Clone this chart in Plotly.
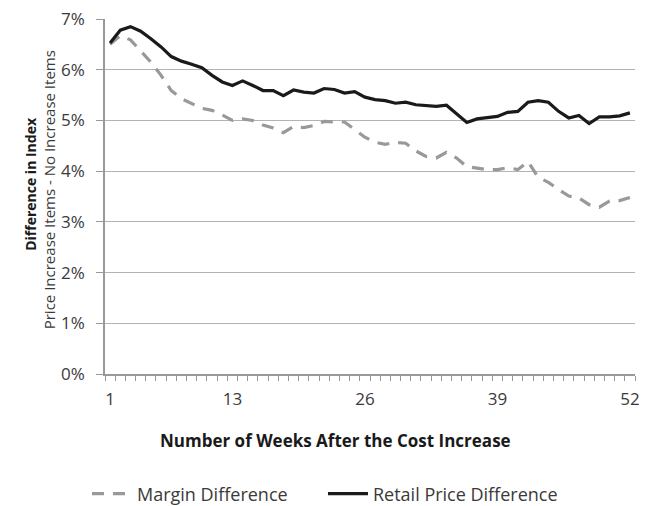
import plotly.graph_objects as go

weeks = list(range(1, 53))

retail_price_difference = [
    6.53, 6.78, 6.85, 6.76, 6.61, 6.45, 6.26, 6.17, 6.11, 6.04,
    5.89, 5.76, 5.69, 5.78, 5.69, 5.59, 5.59, 5.49, 5.60, 5.56,
    5.54, 5.63, 5.61, 5.54, 5.57, 5.46, 5.41, 5.39, 5.34, 5.36,
    5.31, 5.30, 5.28, 5.30, 5.13, 4.96, 5.03, 5.06, 5.08, 5.16,
    5.18, 5.36, 5.39, 5.36, 5.18, 5.05, 5.10, 4.94, 5.07, 5.07,
    5.09, 5.15,
]

margin_difference = [
    6.50, 6.67, 6.59, 6.37, 6.15, 5.89, 5.59, 5.43, 5.33, 5.24,
    5.20, 5.11, 5.00, 5.03, 5.00, 4.91, 4.85, 4.76, 4.88, 4.86,
    4.90, 4.98, 4.97, 4.97, 4.82, 4.67, 4.57, 4.53, 4.57, 4.55,
    4.40, 4.29, 4.26, 4.37, 4.26, 4.09, 4.06, 4.03, 4.03, 4.07,
    4.03, 4.19, 3.88, 3.78, 3.64, 3.51, 3.47, 3.34, 3.29, 3.41,
    3.42, 3.48,
]

x_tick_labels = [1, 13, 26, 39, 52]
y_tick_values = [0, 1, 2, 3, 4, 5, 6, 7]

FONT = "Open Sans"
TXT = "#3a3a3a"

fig = go.Figure()
fig.add_trace(go.Scatter(
    x=weeks, y=margin_difference, mode="lines",
    name="Margin Difference",
    line=dict(color="#999999", width=3.2, dash="12px,9px"),
))
fig.add_trace(go.Scatter(
    x=weeks, y=retail_price_difference, mode="lines",
    name="Retail Price Difference",
    line=dict(color="#1a1a1a", width=3.2),
))

# page body has an 8px margin, so the figure is 8px smaller each way
fig.update_layout(
    width=639, height=498,
    margin=dict(l=97, r=12, t=11, b=132, autoexpand=False),
    paper_bgcolor="white", plot_bgcolor="white",
    font=dict(family=FONT, size=17, color=TXT),
    showlegend=True,
    legend=dict(orientation="h", xref="paper", x=-0.034, xanchor="left",
                yref="paper", y=-0.338, yanchor="middle",
                font=dict(size=18, color=TXT), itemwidth=40,
                entrywidth=181, entrywidthmode="pixels",
                tracegroupgap=0),
    xaxis=dict(
        range=[0.5, 52.5],
        tickvals=x_tick_labels, ticktext=[str(v) for v in x_tick_labels],
        ticks="", showgrid=False, zeroline=False,
        showline=True, linecolor="#999999", linewidth=1.5,
        tickfont=dict(size=17, color=TXT), ticklabelstandoff=9,
        minor=dict(ticks="outside", tick0=0.5, dtick=1, ticklen=5,
                   tickcolor="#999999", tickwidth=1, showgrid=False),
    ),
    yaxis=dict(
        range=[0, 7.001], tickvals=y_tick_values,
        ticktext=[f"{v}%" for v in y_tick_values],
        showgrid=True, gridcolor="#b3b3b3", gridwidth=1.3,
        zeroline=False, showline=True, linecolor="#999999", linewidth=1.5,
        ticks="outside", ticklen=7, tickcolor="#999999",
        tickfont=dict(size=17, color=TXT), ticklabelstandoff=8,
        ticklabeloverflow="allow",
    ),
)

fig.add_annotation(
    text="<b>Difference in Index</b>", textangle=-90,
    xref="paper", yref="paper", x=-0.142, y=0.535,
    xanchor="center", yanchor="middle", showarrow=False,
    font=dict(size=14, color="#1a1a1a", family=FONT),
)
fig.add_annotation(
    text="Price Increase Items - No Increase Items", textangle=-90,
    xref="paper", yref="paper", x=-0.104, y=0.52,
    xanchor="center", yanchor="middle", showarrow=False,
    font=dict(size=15, color=TXT, family=FONT),
)
fig.add_annotation(
    text="<b>Number of Weeks After the Cost Increase</b>",
    xref="paper", yref="paper", x=0.434, y=-0.187,
    xanchor="center", yanchor="middle", showarrow=False,
    font=dict(size=17, color="#1a1a1a", family=FONT),
)

fig.write_html("out.html")
